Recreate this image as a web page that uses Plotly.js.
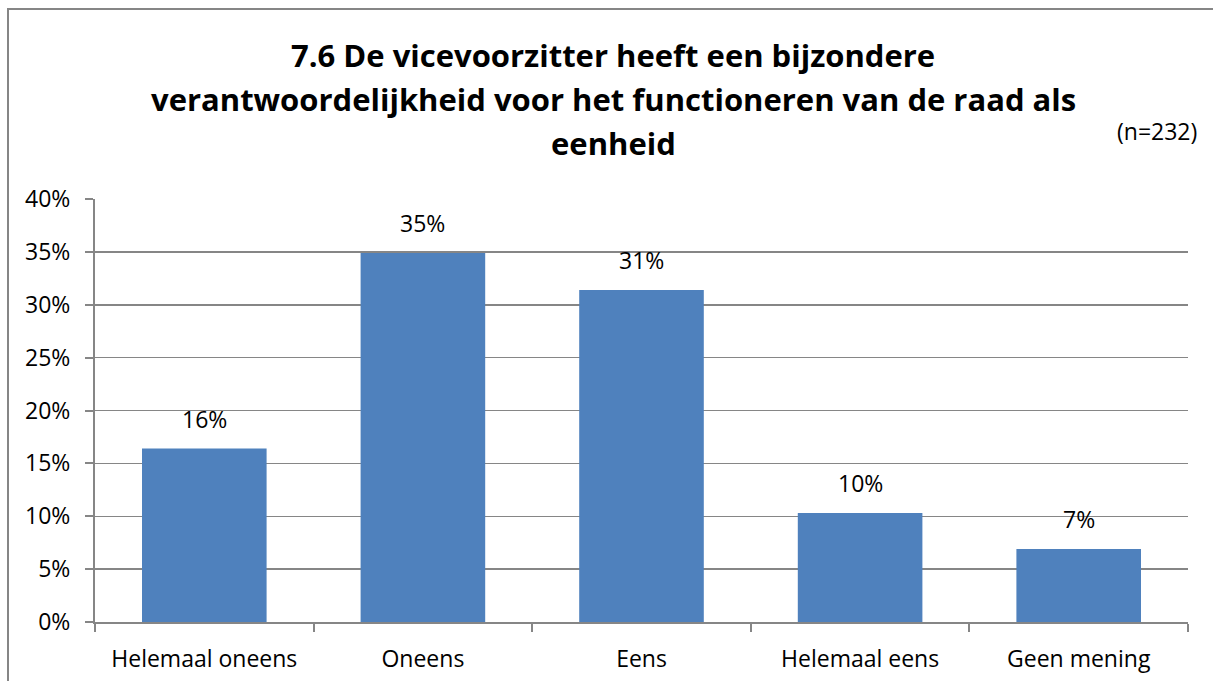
<!DOCTYPE html>
<html>
<head>
<meta charset="utf-8">
<script src="https://cdn.plot.ly/plotly-3.0.1.min.js"></script>
<style>
  body { margin: 0; background: #fff; }
  #wrap { position: relative; width: 1213px; height: 681px; overflow: hidden; }
  #chart { position: absolute; left: 0; top: 0; width: 1213px; height: 681px; }
  #frame { position: absolute; left: 7px; top: 8px; width: 1220px; height: 700px;
           border: 2px solid #868686; box-sizing: border-box; pointer-events: none; }
</style>
</head>
<body>
<div id="wrap">
  <div id="chart"></div>
  <div id="frame"></div>
</div>
<script>
// -- Data ----------------------------------------------------------------------
const categories = ['Helemaal oneens', 'Oneens', 'Eens', 'Helemaal eens', 'Geen mening'];
const shares = [16.4, 34.9, 31.4, 10.3, 6.9];   // percent of respondents
const titleLines = [
  '7.6 De vicevoorzitter heeft een bijzondere',
  'verantwoordelijkheid voor het functioneren van de raad als',
  'eenheid'
];
const sampleNote = '(n=232)';
const yTicks = [0, 5, 10, 15, 20, 25, 30, 35, 40];

// -- Layout helpers ------------------------------------------------------------
const FONT = 'Open Sans, Noto Sans, sans-serif';
const GRID = '#868686';
const plotTop = 199, plotBottom = 622;   // px, used to place paper-y annotations
function paperY(px) { return (plotBottom - px) / (plotBottom - plotTop); }

const barTrace = {
  x: categories,
  y: shares,
  type: 'bar',
  width: 0.57,
  marker: { color: '#4F81BD' },
  hoverinfo: 'skip'
};

// value labels above bars
const valueNotes = categories.map((c, i) => ({
  x: c, y: shares[i],
  xref: 'x', yref: 'y',
  text: Math.round(shares[i]) + '%',
  showarrow: false,
  yanchor: 'bottom',
  yshift: 12,
  font: { family: FONT, size: 23, color: '#000' }
}));

const titleNotes = titleLines.map((t, i) => ({
  x: 0.474, y: paperY([55, 99, 143][i]),
  xref: 'paper', yref: 'paper',
  text: '<b>' + t + '</b>',
  showarrow: false,
  xanchor: 'center', yanchor: 'middle',
  font: { family: FONT, size: 31, color: '#000' }
}));

const nNote = {
  x: 1.01, y: paperY(131),
  xref: 'paper', yref: 'paper',
  text: sampleNote,
  showarrow: false,
  xanchor: 'right', yanchor: 'middle',
  font: { family: FONT, size: 23, color: '#000' }
};

const layout = {
  width: 1213, height: 681,
  paper_bgcolor: 'rgba(0,0,0,0)',
  plot_bgcolor: '#fff',
  margin: { l: 95, r: 25, t: 199, b: 59 },
  font: { family: FONT, size: 23, color: '#000' },
  showlegend: false,
  bargap: 0.43,
  xaxis: {
    type: 'category',
    showline: true, linecolor: GRID, linewidth: 2,
    ticks: 'outside', tickson: 'boundaries', ticklen: 8, tickcolor: GRID, tickwidth: 2,
    ticklabelstandoff: 15,
    showgrid: false,
    tickfont: { family: FONT, size: 23, color: '#000' }
  },
  yaxis: {
    range: [0, 40],
    tickvals: yTicks,
    ticktext: yTicks.map(v => v + '%'),
    showline: true, linecolor: GRID, linewidth: 2,
    ticks: 'outside', ticklen: 8, tickcolor: GRID, tickwidth: 2,
    ticklabelstandoff: 10,
    showgrid: true, gridcolor: GRID, gridwidth: 1.5,
    zeroline: false,
    tickfont: { family: FONT, size: 23, color: '#000' }
  },
  annotations: [...valueNotes, ...titleNotes, nNote]
};

Plotly.newPlot('chart', [barTrace], layout, { displayModeBar: false, staticPlot: true });
</script>
</body>
</html>
